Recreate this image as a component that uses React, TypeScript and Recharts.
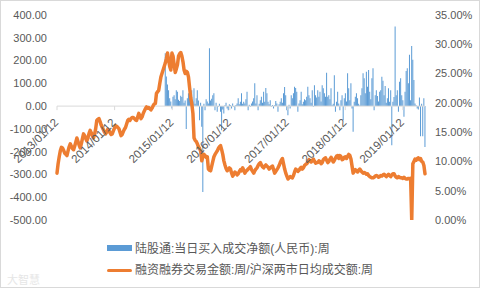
import React from 'react';
import { ComposedChart, Bar, Line, XAxis, YAxis, ReferenceLine } from 'recharts';

// ---------- data ----------
const START_DATE = '2013-01-12';
const xTickLabels = ['2013/01/12', '2014/01/12', '2015/01/12', '2016/01/12', '2017/01/12', '2018/01/12', '2019/01/12'];
const leftTicks = [-500, -400, -300, -200, -100, 0, 100, 200, 300, 400];
const rightTicks = [0, 5, 10, 15, 20, 25, 30, 35];

const seriesNames = ['陆股通:当日买入成交净额(人民币):周', '融资融券交易金额:周/沪深两市日均成交额:周'];

// 融资融券交易金额 / 两市日均成交额 (%), weekly from 2013-01-12
const ratioWeekly = [
  8.0, 9.6, 10.8, 11.8, 12.4, 12.3, 11.9, 11.4, 11.2, 11.0,
  11.8, 12.5, 13.0, 12.6, 12.2, 12.0, 12.6, 13.3, 14.0, 13.4,
  12.8, 12.3, 13.0, 13.9, 14.7, 14.4, 13.9, 13.5, 14.0, 14.8,
  15.3, 14.9, 14.4, 14.0, 14.6, 15.6, 17.0, 17.2, 17.3, 16.8,
  16.2, 15.8, 15.4, 15.0, 14.7, 15.0, 15.5, 15.3, 14.9, 14.6,
  14.7, 15.2, 15.7, 16.1, 16.0, 15.8, 15.6, 15.0, 14.4, 14.6,
  15.1, 15.5, 15.8, 16.4, 17.0, 17.2, 17.0, 17.3, 17.5, 17.5,
  17.3, 17.1, 17.0, 17.6, 18.2, 17.8, 17.3, 17.6, 18.2, 18.6,
  19.0, 19.3, 19.1, 19.2, 19.0, 18.8, 19.1, 19.5, 19.8, 19.9,
  21.6, 21.9, 22.1, 23.3, 24.4, 25.0, 25.6, 26.2, 26.8, 27.6,
  28.5, 27.3, 26.2, 25.6, 28.5, 28.0, 26.5, 25.2, 25.8, 26.5,
  28.0, 28.4, 28.6, 28.0, 27.0, 25.6, 25.0, 25.4, 25.2, 24.4,
  22.6, 20.9, 19.8, 18.2, 14.0, 13.6, 13.4, 13.0, 12.5, 12.2,
  11.8, 10.1, 10.8, 11.2, 11.0, 10.7, 10.8, 8.7, 8.5, 8.4,
  9.2, 10.0, 10.8, 11.2, 11.5, 11.8, 12.2, 12.5, 12.7, 12.0,
  11.2, 10.1, 9.4, 8.8, 8.4, 8.6, 8.9, 8.7, 8.0, 7.5,
  7.8, 8.2, 8.0, 7.7, 7.9, 8.3, 8.6, 8.4, 8.9, 8.5,
  8.0, 8.3, 8.5, 8.7, 8.9, 9.1, 8.6, 8.3, 8.0, 8.4,
  8.7, 8.9, 9.3, 9.6, 9.8, 9.4, 9.1, 8.9, 9.2, 9.4,
  9.2, 9.0, 8.7, 8.9, 9.1, 9.2, 8.6, 8.0, 8.3, 8.6,
  8.9, 9.3, 9.8, 10.2, 10.5, 9.6, 8.7, 8.0, 7.5, 7.0,
  7.2, 7.4, 7.3, 7.2, 7.6, 8.2, 8.7, 8.5, 8.3, 8.5,
  8.8, 9.0, 8.7, 8.9, 9.3, 9.5, 9.6, 9.9, 10.3, 10.1,
  9.9, 10.2, 10.4, 10.0, 9.7, 9.8, 9.8, 10.1, 10.0, 9.6,
  9.8, 10.3, 10.5, 10.6, 10.2, 9.8, 10.0, 10.4, 10.7, 10.3,
  9.9, 10.2, 10.6, 10.9, 11.0, 10.5, 11.0, 10.8, 10.3, 10.4,
  10.7, 10.8, 10.5, 10.9, 11.2, 11.0, 10.4, 9.2, 8.0, 8.3,
  8.6, 8.4, 8.2, 8.5, 8.7, 8.4, 8.2, 8.0, 8.1, 8.0,
  7.8, 7.9, 7.6, 7.4, 7.3, 7.2, 7.2, 7.3, 7.5, 7.6,
  7.5, 7.3, 7.4, 7.6, 7.5, 7.7, 7.8, 7.6, 7.4, 7.6,
  7.8, 7.6, 7.4, 7.7, 7.9, 7.9, 7.5, 7.3, 7.2, 7.4,
  7.3, 7.2, 7.2, 7.1, 7.3, 7.1, 7.0, 7.0, 7.1, 7.0,
  7.1, 0.0, 9.6, 10.0, 10.4, 10.2, 10.5, 10.6, 10.3, 10.5,
  10.0, 9.9, 9.3, 7.9,
];

// 陆股通 weekly net buy (亿元), starts week index 98 (2014-11)
const NORTHBOUND_START_WEEK = 98;
const northboundWeekly = [
  232, 130, 95, 70, 34, 20, -10, 41, 48, 30,
  70, 63, 28, 22, 45, 40, 70, 15, 25, -100,
  35, 56, 48, 25, 70, 20, 78, 10, 35, 70,
  25, -62, 15, -91, -377, 10, -18, 30, 20, 12,
  254, 25, 32, 48, 56, -18, 15, -25, -3, 10,
  -25, -106, -15, -32, 4, 15, -10, -18, 8, 4,
  -10, 12, -3, -18, 5, 12, 34, 8, 19, 56,
  10, 19, 12, 30, 63, -18, 6, -3, 12, 20,
  34, 100, 12, 48, -18, 10, 26, 41, 15, 63,
  19, 80, 56, 19, 8, 26, -3, 5, -10, 4,
  22, 12, -25, 8, 19, 34, 15, 56, 84, 48,
  -18, -40, 6, -10, 48, 34, 56, 85, 80, 63,
  -25, 12, 26, 63, 8, 19, 30, 26, 41, 85,
  48, 34, 15, 70, -3, 92, 48, 38, 70, 41,
  63, 20, 92, 78, 56, 41, 147, 41, 48, 30,
  78, 4, 10, 136, -25, 19, 63, 12, -18, 26,
  48, -62, 34, 56, 20, 144, 78, 26, 100, -10,
  -113, 19, 41, 56, 34, 10, 3, 48, 78, 144,
  122, 56, 151, 85, 158, 63, 30, 122, 166, -18,
  48, 70, 44, 20, 63, 70, 129, 111, 48, 88,
  15, 34, 78, 19, 70, -172, 19, 40, 349, 48,
  70, -25, 107, 122, 48, 26, -47, 63, 154, 166,
  100, 225, 26, 264, 203, 115, 12, 4, -10, -15,
  38, -132, 10, -132, 34, -179,
];

// ---------- derived ----------
const DAY = 86400000;
const startMs = Date.parse(START_DATE + 'T00:00:00Z');
const toDays = (label: string) => Math.round((Date.parse(label.replace(/\//g, '-') + 'T00:00:00Z') - startMs) / DAY);
const tickDays = xTickLabels.map(toDays);
const labelByDay: Record<string, string> = {};
xTickLabels.forEach((l, i) => { labelByDay[String(tickDays[i])] = l; });

const data = ratioWeekly.map((r, i) => {
  const b = i >= NORTHBOUND_START_WEEK ? northboundWeekly[i - NORTHBOUND_START_WEEK] : undefined;
  return { t: i * 7, ratio: r, net: b === undefined ? null : b };
});
const lastDay = (ratioWeekly.length - 1) * 7;

// ---------- layout ----------
const W = 480;
const H = 288;
const X_AXIS_H = 20;
const MARGIN = { top: 15, right: 0, bottom: 48, left: 0 };
const LEFT_W = 57;
const RIGHT_W = 55;
const LEFT_MIN = -500;
const LEFT_MAX = 400;
const plotTop = MARGIN.top;
const plotH = H - MARGIN.top - MARGIN.bottom - X_AXIS_H;
const zeroY = plotTop + plotH * (LEFT_MAX - 0) / (LEFT_MAX - LEFT_MIN);

const BLUE = '#5B9BD5';
const ORANGE = '#ED7D31';
const TEXT = '#595959';
const FONT = '"Liberation Sans", Arial, "Noto Sans CJK SC", sans-serif';

const DateTick = (props: any) => {
  const { x, payload } = props;
  const label = labelByDay[String(Math.round(payload.value))] ?? '';
  const ax = x + 2;
  const ay = zeroY + 17;
  return (
    <g>
      <line x1={x} x2={x} y1={zeroY} y2={zeroY + 4} stroke="#D9D9D9" strokeWidth={1} />
      <text
        x={ax}
        y={ay}
        transform={`rotate(-45 ${ax} ${ay})`}
        textAnchor="end"
        fill={TEXT}
        fontSize={11.5}
        fontFamily={FONT}
      >
        {label}
      </text>
    </g>
  );
};

export default function App() {
  return (
    <div style={{ position: 'absolute', left: 0, top: 0, width: W, height: H, background: '#fff', boxSizing: 'border-box', border: '1px solid #D9D9D9', fontFamily: FONT }}>
      <div style={{ position: 'absolute', left: -1, top: -1 }}>
        <ComposedChart width={W} height={H} data={data} margin={MARGIN}>
          <XAxis
            dataKey="t"
            type="number"
            domain={[0, lastDay]}
            ticks={tickDays}
            interval={0}
            height={X_AXIS_H}
            axisLine={false}
            tickLine={false}
            tick={DateTick}
          />
          <YAxis
            yAxisId="left"
            orientation="left"
            width={LEFT_W}
            domain={[LEFT_MIN, LEFT_MAX]}
            ticks={leftTicks}
            interval={0}
            allowDataOverflow
            axisLine={false}
            tickLine={false}
            tickSize={0}
            tickMargin={10}
            tickFormatter={(v: number) => v.toFixed(2)}
            tick={{ fill: TEXT, fontSize: 11, fontFamily: FONT }}
          />
          <YAxis
            yAxisId="right"
            orientation="right"
            width={RIGHT_W}
            domain={[0, 35]}
            ticks={rightTicks}
            interval={0}
            allowDataOverflow
            axisLine={false}
            tickLine={false}
            tickSize={0}
            tickMargin={10}
            tickFormatter={(v: number) => `${v.toFixed(2)}%`}
            tick={{ fill: TEXT, fontSize: 11, fontFamily: FONT }}
          />
          <ReferenceLine y={0} yAxisId="left" stroke="#D9D9D9" strokeWidth={1} />
          <Bar yAxisId="left" dataKey="net" name={seriesNames[0]} fill={BLUE} barSize={1} isAnimationActive={false} />
          <Line
            yAxisId="right"
            dataKey="ratio"
            name={seriesNames[1]}
            type="linear"
            stroke={ORANGE}
            strokeWidth={3.5}
            strokeLinejoin="round"
            strokeLinecap="round"
            dot={false}
            activeDot={false}
            isAnimationActive={false}
          />
        </ComposedChart>
      </div>
      {/* legend */}
      <div style={{ position: 'absolute', left: 106, top: 244, width: 25, height: 6, background: BLUE }} />
      <div style={{ position: 'absolute', left: 134, top: 240, fontSize: 12, lineHeight: '17px', color: TEXT, whiteSpace: 'nowrap' }}>{seriesNames[0]}</div>
      <div style={{ position: 'absolute', left: 106, top: 268, width: 25, height: 3, borderRadius: 2, background: ORANGE }} />
      <div style={{ position: 'absolute', left: 134, top: 261, fontSize: 12, lineHeight: '17px', color: TEXT, whiteSpace: 'nowrap' }}>{seriesNames[1]}</div>
      {/* watermark */}
      <div style={{ position: 'absolute', left: 6, top: 270, fontSize: 11, color: '#E6E6E6', whiteSpace: 'nowrap' }}>大智慧</div>
    </div>
  );
}
